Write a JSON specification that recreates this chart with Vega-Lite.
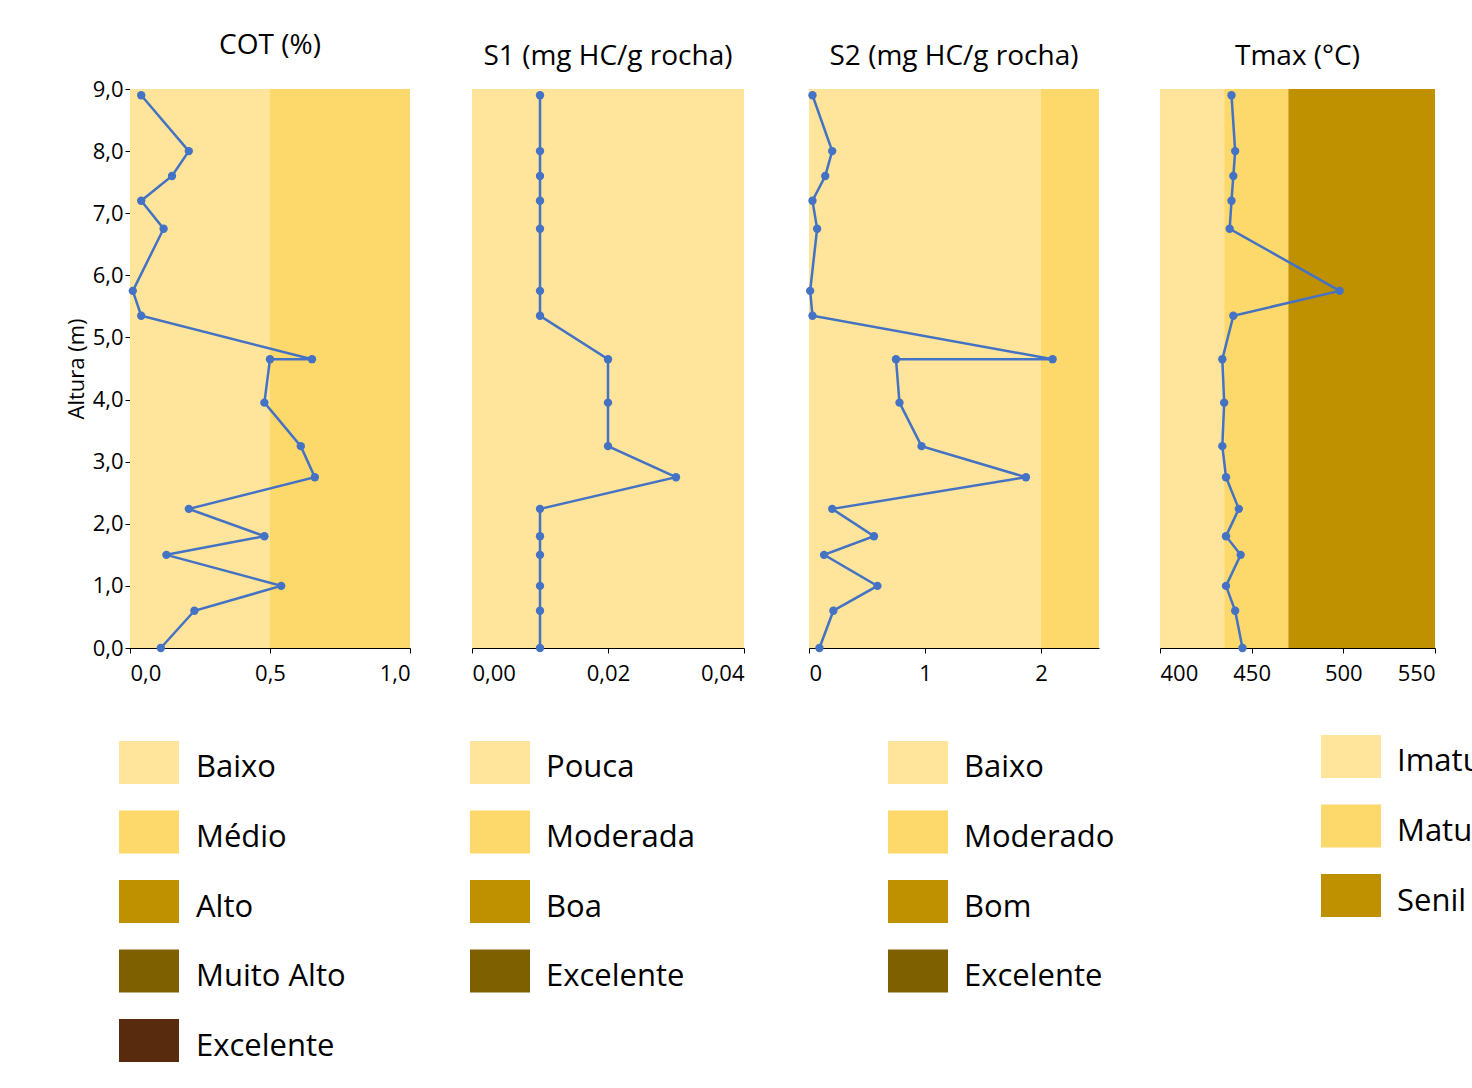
{
  "$schema": "https://vega.github.io/schema/vega-lite/v6.json",
  "background": "white",
  "padding": {"left": 65, "top": 32, "right": 5, "bottom": 5},
  "spacing": 50,
  "config": {
    "locale": {"number": {"decimal": ",", "thousands": ".", "grouping": [3], "currency": ["", ""]}},
    "font": "Open Sans",
    "view": {"stroke": null},
    "axis": {"grid": false, "domainColor": "#000", "tickColor": "#000", "labelFontSize": 22, "labelColor": "#000", "titleFontSize": 22, "titleFontWeight": "normal", "labelFont": "Open Sans", "titleFont": "Open Sans"},
    "title": {"fontSize": 28, "fontWeight": "normal", "font": "Open Sans", "offset": 18},
    "concat": {"spacing": 60}
  },
  "datasets": {
    "bands": [
      {"panel": "COT", "x": 0, "x2": 0.5, "c": "l"},
      {"panel": "COT", "x": 0.5, "x2": 1, "c": "m"},
      {"panel": "S1", "x": 0, "x2": 0.04, "c": "l"},
      {"panel": "S2", "x": 0, "x2": 2, "c": "l"},
      {"panel": "S2", "x": 2, "x2": 2.5, "c": "m"},
      {"panel": "T", "x": 400, "x2": 435, "c": "l"},
      {"panel": "T", "x": 435, "x2": 470, "c": "m"},
      {"panel": "T", "x": 470, "x2": 550, "c": "a"}
    ],
    "pts": [
      {"panel": "COT", "o": 1, "h": 8.9, "v": 0.04},
      {"panel": "COT", "o": 2, "h": 8.0, "v": 0.21},
      {"panel": "COT", "o": 3, "h": 7.6, "v": 0.15},
      {"panel": "COT", "o": 4, "h": 7.2, "v": 0.04},
      {"panel": "COT", "o": 5, "h": 6.75, "v": 0.12},
      {"panel": "COT", "o": 6, "h": 5.75, "v": 0.01},
      {"panel": "COT", "o": 7, "h": 5.35, "v": 0.04},
      {"panel": "COT", "o": 8, "h": 4.65, "v": 0.65},
      {"panel": "COT", "o": 9, "h": 4.65, "v": 0.50},
      {"panel": "COT", "o": 10, "h": 3.95, "v": 0.48},
      {"panel": "COT", "o": 11, "h": 3.25, "v": 0.61},
      {"panel": "COT", "o": 12, "h": 2.75, "v": 0.66},
      {"panel": "COT", "o": 13, "h": 2.24, "v": 0.21},
      {"panel": "COT", "o": 14, "h": 1.8, "v": 0.48},
      {"panel": "COT", "o": 15, "h": 1.5, "v": 0.13},
      {"panel": "COT", "o": 16, "h": 1.0, "v": 0.54},
      {"panel": "COT", "o": 17, "h": 0.6, "v": 0.23},
      {"panel": "COT", "o": 18, "h": 0.0, "v": 0.11},
      {"panel": "S1", "o": 1, "h": 8.9, "v": 0.01},
      {"panel": "S1", "o": 2, "h": 8.0, "v": 0.01},
      {"panel": "S1", "o": 3, "h": 7.6, "v": 0.01},
      {"panel": "S1", "o": 4, "h": 7.2, "v": 0.01},
      {"panel": "S1", "o": 5, "h": 6.75, "v": 0.01},
      {"panel": "S1", "o": 6, "h": 5.75, "v": 0.01},
      {"panel": "S1", "o": 7, "h": 5.35, "v": 0.01},
      {"panel": "S1", "o": 8, "h": 4.65, "v": 0.02},
      {"panel": "S1", "o": 10, "h": 3.95, "v": 0.02},
      {"panel": "S1", "o": 11, "h": 3.25, "v": 0.02},
      {"panel": "S1", "o": 12, "h": 2.75, "v": 0.03},
      {"panel": "S1", "o": 13, "h": 2.24, "v": 0.01},
      {"panel": "S1", "o": 14, "h": 1.8, "v": 0.01},
      {"panel": "S1", "o": 15, "h": 1.5, "v": 0.01},
      {"panel": "S1", "o": 16, "h": 1.0, "v": 0.01},
      {"panel": "S1", "o": 17, "h": 0.6, "v": 0.01},
      {"panel": "S1", "o": 18, "h": 0.0, "v": 0.01},
      {"panel": "S2", "o": 1, "h": 8.9, "v": 0.03},
      {"panel": "S2", "o": 2, "h": 8.0, "v": 0.2},
      {"panel": "S2", "o": 3, "h": 7.6, "v": 0.14},
      {"panel": "S2", "o": 4, "h": 7.2, "v": 0.03},
      {"panel": "S2", "o": 5, "h": 6.75, "v": 0.07},
      {"panel": "S2", "o": 6, "h": 5.75, "v": 0.01},
      {"panel": "S2", "o": 7, "h": 5.35, "v": 0.03},
      {"panel": "S2", "o": 8, "h": 4.65, "v": 2.1},
      {"panel": "S2", "o": 9, "h": 4.65, "v": 0.75},
      {"panel": "S2", "o": 10, "h": 3.95, "v": 0.78},
      {"panel": "S2", "o": 11, "h": 3.25, "v": 0.97},
      {"panel": "S2", "o": 12, "h": 2.75, "v": 1.87},
      {"panel": "S2", "o": 13, "h": 2.24, "v": 0.2},
      {"panel": "S2", "o": 14, "h": 1.8, "v": 0.56},
      {"panel": "S2", "o": 15, "h": 1.5, "v": 0.13},
      {"panel": "S2", "o": 16, "h": 1.0, "v": 0.59},
      {"panel": "S2", "o": 17, "h": 0.6, "v": 0.21},
      {"panel": "S2", "o": 18, "h": 0.0, "v": 0.09},
      {"panel": "T", "o": 1, "h": 8.9, "v": 439},
      {"panel": "T", "o": 2, "h": 8.0, "v": 441},
      {"panel": "T", "o": 3, "h": 7.6, "v": 440},
      {"panel": "T", "o": 4, "h": 7.2, "v": 439},
      {"panel": "T", "o": 5, "h": 6.75, "v": 438},
      {"panel": "T", "o": 6, "h": 5.75, "v": 498},
      {"panel": "T", "o": 7, "h": 5.35, "v": 440},
      {"panel": "T", "o": 8, "h": 4.65, "v": 434},
      {"panel": "T", "o": 10, "h": 3.95, "v": 435},
      {"panel": "T", "o": 11, "h": 3.25, "v": 434},
      {"panel": "T", "o": 12, "h": 2.75, "v": 436},
      {"panel": "T", "o": 13, "h": 2.24, "v": 443},
      {"panel": "T", "o": 14, "h": 1.8, "v": 436},
      {"panel": "T", "o": 15, "h": 1.5, "v": 444},
      {"panel": "T", "o": 16, "h": 1.0, "v": 436},
      {"panel": "T", "o": 17, "h": 0.6, "v": 441},
      {"panel": "T", "o": 18, "h": 0.0, "v": 445}
    ],
    "leg": [
      {"panel": "COT", "r": 1, "c": "l", "t": "Baixo"},
      {"panel": "COT", "r": 2, "c": "m", "t": "Médio"},
      {"panel": "COT", "r": 3, "c": "a", "t": "Alto"},
      {"panel": "COT", "r": 4, "c": "d", "t": "Muito Alto"},
      {"panel": "COT", "r": 5, "c": "e", "t": "Excelente"},
      {"panel": "S1", "r": 1, "c": "l", "t": "Pouca"},
      {"panel": "S1", "r": 2, "c": "m", "t": "Moderada"},
      {"panel": "S1", "r": 3, "c": "a", "t": "Boa"},
      {"panel": "S1", "r": 4, "c": "d", "t": "Excelente"},
      {"panel": "S2", "r": 1, "c": "l", "t": "Baixo"},
      {"panel": "S2", "r": 2, "c": "m", "t": "Moderado"},
      {"panel": "S2", "r": 3, "c": "a", "t": "Bom"},
      {"panel": "S2", "r": 4, "c": "d", "t": "Excelente"},
      {"panel": "T", "r": 1, "c": "l", "t": "Imaturo"},
      {"panel": "T", "r": 2, "c": "m", "t": "Maturo"},
      {"panel": "T", "r": 3, "c": "a", "t": "Senil"}
    ]
  },
  "vconcat": [
    {
      "hconcat": [
        {
          "title": "COT (%)", "width": 280, "height": 559,
          "layer": [
            {"data": {"name": "bands"}, "transform": [{"filter": "datum.panel == 'COT'"}], "mark": "rect",
             "encoding": {"x": {"field": "x", "type": "quantitative", "scale": {"domain": [0, 1], "nice": false}, "axis": {"values": [0, 0.5, 1], "format": ".1f", "title": null, "labelPadding": 10}}, "x2": {"field": "x2"},
               "color": {"field": "c", "type": "nominal", "scale": {"domain": ["l", "m", "a", "d", "e"], "range": ["#FEE59B", "#FDD86B", "#BF9000", "#7F6000", "#582A0E"]}, "legend": null}}},
            {"data": {"name": "pts"}, "transform": [{"filter": "datum.panel == 'COT'"}], "mark": {"type": "line", "color": "#4472C4", "strokeWidth": 2.5, "point": {"filled": true, "size": 70, "color": "#4472C4"}},
             "encoding": {"x": {"field": "v", "type": "quantitative"}, "y": {"field": "h", "type": "quantitative", "scale": {"domain": [0, 9]}, "axis": {"values": [0,1,2,3,4,5,6,7,8,9], "format": ".1f", "title": "Altura (m)"}}, "order": {"field": "o"}}}
          ]
        },
        {
          "title": "S1 (mg HC/g rocha)", "width": 272, "height": 559,
          "layer": [
            {"data": {"name": "bands"}, "transform": [{"filter": "datum.panel == 'S1'"}], "mark": "rect",
             "encoding": {"x": {"field": "x", "type": "quantitative", "scale": {"domain": [0, 0.04], "nice": false}, "axis": {"values": [0, 0.02, 0.04], "format": ".2f", "title": null, "labelPadding": 10}}, "x2": {"field": "x2"},
               "color": {"field": "c", "type": "nominal", "scale": {"domain": ["l", "m", "a", "d", "e"], "range": ["#FEE59B", "#FDD86B", "#BF9000", "#7F6000", "#582A0E"]}, "legend": null}}},
            {"data": {"name": "pts"}, "transform": [{"filter": "datum.panel == 'S1'"}], "mark": {"type": "line", "color": "#4472C4", "strokeWidth": 2.5, "point": {"filled": true, "size": 70, "color": "#4472C4"}},
             "encoding": {"x": {"field": "v", "type": "quantitative"}, "y": {"field": "h", "type": "quantitative", "scale": {"domain": [0, 9]}, "axis": null}, "order": {"field": "o"}}}
          ]
        },
        {
          "title": "S2 (mg HC/g rocha)", "width": 290, "height": 559,
          "layer": [
            {"data": {"name": "bands"}, "transform": [{"filter": "datum.panel == 'S2'"}], "mark": "rect",
             "encoding": {"x": {"field": "x", "type": "quantitative", "scale": {"domain": [0, 2.5], "nice": false}, "axis": {"values": [0, 1, 2], "format": "d", "title": null, "labelPadding": 10}}, "x2": {"field": "x2"},
               "color": {"field": "c", "type": "nominal", "scale": {"domain": ["l", "m", "a", "d", "e"], "range": ["#FEE59B", "#FDD86B", "#BF9000", "#7F6000", "#582A0E"]}, "legend": null}}},
            {"data": {"name": "pts"}, "transform": [{"filter": "datum.panel == 'S2'"}], "mark": {"type": "line", "color": "#4472C4", "strokeWidth": 2.5, "point": {"filled": true, "size": 70, "color": "#4472C4"}},
             "encoding": {"x": {"field": "v", "type": "quantitative"}, "y": {"field": "h", "type": "quantitative", "scale": {"domain": [0, 9]}, "axis": null}, "order": {"field": "o"}}}
          ]
        },
        {
          "title": "Tmax (°C)", "width": 275, "height": 559,
          "layer": [
            {"data": {"name": "bands"}, "transform": [{"filter": "datum.panel == 'T'"}], "mark": "rect",
             "encoding": {"x": {"field": "x", "type": "quantitative", "scale": {"domain": [400, 550], "nice": false, "zero": false}, "axis": {"values": [400, 450, 500, 550], "format": "d", "title": null, "labelPadding": 10}}, "x2": {"field": "x2"},
               "color": {"field": "c", "type": "nominal", "scale": {"domain": ["l", "m", "a", "d", "e"], "range": ["#FEE59B", "#FDD86B", "#BF9000", "#7F6000", "#582A0E"]}, "legend": null}}},
            {"data": {"name": "pts"}, "transform": [{"filter": "datum.panel == 'T'"}], "mark": {"type": "line", "color": "#4472C4", "strokeWidth": 2.5, "point": {"filled": true, "size": 70, "color": "#4472C4"}},
             "encoding": {"x": {"field": "v", "type": "quantitative"}, "y": {"field": "h", "type": "quantitative", "scale": {"domain": [0, 9]}, "axis": null}, "order": {"field": "o"}}}
          ]
        }
      ]
    },
    {
      "hconcat": [
        {"width": 280, "height": 335, "data": {"name": "leg"}, "transform": [{"filter": "datum.panel == 'COT'"}],
         "encoding": {"y": {"field": "r", "type": "ordinal", "scale": {"domain": [1,2,3,4,5], "paddingInner": 0.38, "paddingOuter": 0.1}, "axis": null}},
         "layer": [
           {"mark": {"type": "rect", "x": -11, "x2": 49}, "encoding": {"color": {"field": "c", "type": "nominal", "scale": {"domain": ["l", "m", "a", "d", "e"], "range": ["#FEE59B", "#FDD86B", "#BF9000", "#7F6000", "#582A0E"]}, "legend": null}}},
           {"mark": {"type": "text", "x": 66, "align": "left", "fontSize": 31, "dy": 6}, "encoding": {"text": {"field": "t"}}}
         ]},
        {"width": 272, "height": 335, "data": {"name": "leg"}, "transform": [{"filter": "datum.panel == 'S1'"}],
         "encoding": {"y": {"field": "r", "type": "ordinal", "scale": {"domain": [1,2,3,4,5], "paddingInner": 0.38, "paddingOuter": 0.1}, "axis": null}},
         "layer": [
           {"mark": {"type": "rect", "x": -86, "x2": -26}, "encoding": {"color": {"field": "c", "type": "nominal", "scale": {"domain": ["l", "m", "a", "d", "e"], "range": ["#FEE59B", "#FDD86B", "#BF9000", "#7F6000", "#582A0E"]}, "legend": null}}},
           {"mark": {"type": "text", "x": -10, "align": "left", "fontSize": 31, "dy": 6}, "encoding": {"text": {"field": "t"}}}
         ]},
        {"width": 290, "height": 335, "data": {"name": "leg"}, "transform": [{"filter": "datum.panel == 'S2'"}],
         "encoding": {"y": {"field": "r", "type": "ordinal", "scale": {"domain": [1,2,3,4,5], "paddingInner": 0.38, "paddingOuter": 0.1}, "axis": null}},
         "layer": [
           {"mark": {"type": "rect", "x": -83, "x2": -23}, "encoding": {"color": {"field": "c", "type": "nominal", "scale": {"domain": ["l", "m", "a", "d", "e"], "range": ["#FEE59B", "#FDD86B", "#BF9000", "#7F6000", "#582A0E"]}, "legend": null}}},
           {"mark": {"type": "text", "x": -7, "align": "left", "fontSize": 31, "dy": 6}, "encoding": {"text": {"field": "t"}}}
         ]},
        {"width": 275, "height": 335, "data": {"name": "leg"}, "transform": [{"filter": "datum.panel == 'T'"}],
         "encoding": {"y": {"field": "r", "type": "ordinal", "scale": {"domain": [1,2,3,4,5], "paddingInner": 0.38, "paddingOuter": 0.1}, "axis": null}},
         "layer": [
           {"mark": {"type": "rect", "x": -85, "x2": -25, "yOffset": -6}, "encoding": {"color": {"field": "c", "type": "nominal", "scale": {"domain": ["l", "m", "a", "d", "e"], "range": ["#FEE59B", "#FDD86B", "#BF9000", "#7F6000", "#582A0E"]}, "legend": null}}},
           {"mark": {"type": "text", "x": -9, "align": "left", "fontSize": 31, "dy": 0}, "encoding": {"text": {"field": "t"}}}
         ]}
      ]
    }
  ]
}
